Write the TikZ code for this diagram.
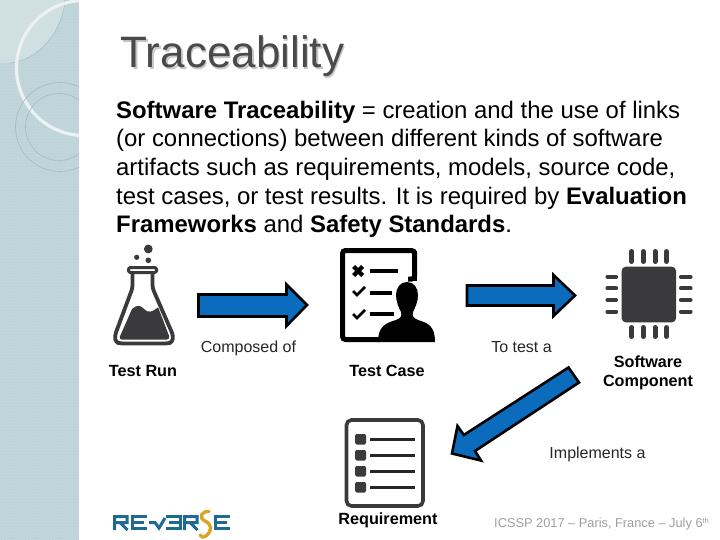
\documentclass[tikz,border=0pt]{standalone}
\usepackage{fontspec}
\setmainfont{Liberation Sans}
\usetikzlibrary{patterns}
\definecolor{side}{HTML}{BFD4D8}
\definecolor{sidelight}{HTML}{D4E2E5}
\definecolor{ring}{HTML}{A2BBC0}
\definecolor{blockblue}{HTML}{0B6BBD}
\definecolor{icon}{HTML}{3A3A3C}
\definecolor{titlegray}{HTML}{4A4A4A}
\definecolor{logoblue}{HTML}{1F6A90}
\definecolor{logogold}{HTML}{D8A526}
\tikzset{
  blockarrow/.style={draw=black,fill=blockblue,line width=2.6pt,line join=miter},
  lbl/.style={anchor=base,inner sep=0pt,font=\fontsize{16}{18}\selectfont,text=black!85},
  caption/.style={anchor=base,inner sep=0pt,align=center,font=\fontsize{16.2}{19}\selectfont,text=black},
  pin/.style={line width=4.2pt,draw=icon,line cap=round},
  logostroke/.style={draw=logoblue,line width=3pt,line cap=butt,line join=miter},
}
\begin{document}
\begin{tikzpicture}[x=1pt,y=-1pt]
\useasboundingbox (0,0) rectangle (720,540);
% sidebar
\fill[side] (0,0) rectangle (79,540);
\fill[pattern=dots,pattern color=white,opacity=0.35] (0,0) rectangle (79,540);
\begin{scope}
\clip (0,0) rectangle (79,540);
\fill[sidelight,opacity=0.8] (0,0) -- (65,0) .. controls (63,30) and (40,60) .. (10,63) -- (0,63) -- cycle;
\draw[ring,line width=0.5pt] (65,0) .. controls (63,30) and (40,60) .. (10,63);
\draw[white!55!sidelight,line width=3.2pt] (84,68) circle[radius=67.5];
\draw[ring,line width=0.6pt] (60,127) circle[radius=44.5];
\draw[ring,line width=0.6pt] (59,127) circle[radius=33.5];
\end{scope}
% title
\node (title) [anchor=base west,inner sep=0pt,text=titlegray,font=\fontsize{44}{48}\selectfont] at (120.5,68)
  {\rlap{\kern1.5pt\raisebox{-1.5pt}{\textcolor{black!22}{Traceability}}}Traceability};
% body
\node (body) [anchor=north west,inner sep=0pt,align=left,text=black,font=\fontsize{23.9}{28.7}\selectfont] at (116,100.5)
{\textbf{Software Traceability} = creation and the use of links\\
(or connections) between different kinds of software\\
artifacts such as requirements, models, source code,\\
test cases, or test results. It is required by \textbf{Evaluation}\\
\textbf{Frameworks} and \textbf{Safety Standards}.};
% flask
\fill[icon] (148.3,249) circle[radius=4.4] (136.7,257.3) circle[radius=2.6] (148.3,260.3) circle[radius=2.8];
\draw[icon,line width=3pt,line join=round,rounded corners=1.5pt]
  (128.5,267.5) -- (156.5,267.5) -- (156.5,272.5) -- (128.5,272.5) -- cycle;
\draw[icon,line width=3.8pt,line join=round,rounded corners=3pt]
  (132.5,272.5) -- (132.5,288) -- (115,335) -- (115.5,342) -- (120,343.5) -- (168,343.5) -- (172.5,342) -- (173,335) -- (152.5,288) -- (152.5,272.5);
\fill[icon,rounded corners=1pt] (120.5,339.5) -- (119.5,337.5) -- (132,309) .. controls (137,305) and (140,305) .. (144,309) .. controls (148,313) and (153,312) .. (158,307) -- (169.5,337) -- (168,339.5) -- cycle;
% test case icon
\draw[black,line width=5pt,rounded corners=3pt] (408,279) -- (414.5,279) -- (414.5,250.5) -- (342.5,250.5) -- (342.5,339.5) -- (380,339.5);
\draw[black,line width=5pt] (414.5,250.5) -- (414.5,281);
\fill[black] (352,268) -- (355,265) -- (358,268) -- (361,265) -- (364,268) -- (361,271) -- (364,274) -- (361,277) -- (358,274) -- (355,277) -- (352,274) -- (355,271) -- cycle;
\draw[black,line width=2.6pt,line join=miter] (353,291) -- (357,295) -- (365,287);
\draw[black,line width=2.6pt,line join=miter] (353,314) -- (357,318) -- (365,310);
\draw[black,line width=3.4pt] (370,271) -- (398,271) (370,293) -- (392,293) (370,314) -- (394,314);
\fill[black] (407,282) .. controls (414,282) and (418,288) .. (418,295) .. controls (418,302) and (415,308) .. (413,312) .. controls (412,316) and (413,318) .. (418,320) .. controls (428,323) and (435,326) .. (435,342) -- (378,342) .. controls (378,326) and (386,323) .. (396,320) .. controls (401,318) and (402,316) .. (401,312) .. controls (399,308) and (396,302) .. (396,295) .. controls (396,288) and (400,282) .. (407,282) -- cycle;
% chip
\fill[icon,rounded corners=4pt] (621.7,266.7) rectangle (676,322.3);
\foreach \x in {631.7,643.3,655,666.5}{
  \draw[pin,line width=5pt] (\x,251.5) -- (\x,261.5);
  \draw[pin,line width=5pt] (\x,327.5) -- (\x,336.5);
}
\foreach \y in {276.7,288.3,300,311.7}{
  \draw[pin] (607.5,\y) -- (616,\y);
  \draw[pin] (681,\y) -- (690.5,\y);
}
% requirement icon
\draw[icon,line width=3.6pt,rounded corners=5pt,fill=white] (346.5,420) rectangle (423,506);
\foreach \y in {434,450,466,482}{
  \fill[icon,rounded corners=1.5pt] (355,\y) rectangle +(11,10.5);
}
\draw[black!85,line width=2.5pt] (370,439.3) -- (415,439.3) (370,455.3) -- (415,455.3) (370,471.3) -- (415,471.3) (370,487.7) -- (415,487.7);
% block arrows
\draw[blockarrow] (198.5,294.5) -- (286.5,294.5) -- (286.5,284.5) -- (307,305) -- (286.5,326) -- (286.5,316.5) -- (198.5,316.5) -- cycle;
\draw[blockarrow] (467,285.5) -- (553.5,285.5) -- (553.5,275) -- (575,295.5) -- (553.5,316) -- (553.5,305.5) -- (467,305.5) -- cycle;
\draw[blockarrow] (568.5,367.5) -- (579,382.5) -- (475,451) -- (481,460.5) -- (452,453.5) -- (457.5,426) -- (463.8,435) -- cycle;
% labels
\node (l1) [lbl] at (248.5,352) {Composed of};
\node (l2) [lbl] at (521.5,352) {To test a};
\node (l3) [lbl] at (597.5,458) {Implements a};
\node (c1) [caption] at (143,376.5) {\textbf{Test Run}};
\node (c2) [caption] at (387,376.5) {\textbf{Test Case}};
\node (c3) [caption,anchor=north] at (648,355.5) {\textbf{Software}\\\textbf{Component}};
\node (c4) [caption] at (388,524.5) {\textbf{Requirement}};
\node (foot) [anchor=base west,inner sep=0pt,text=black!38,font=\fontsize{12.8}{14}\selectfont] at (494,527) {ICSSP 2017 -- Paris, France -- July 6\raisebox{0.5ex}{\fontsize{7.5}{8}\selectfont th}};
% logo
\begin{scope}
\draw[logostroke] (114.5,530) -- (114.5,516.5) -- (127,516.5) -- (127,522.5) -- (114.5,522.5) (120,522.5) -- (127.5,530);
\draw[logostroke] (147,516.5) -- (132,516.5) -- (132,528.5) -- (147,528.5) (132,522.5) -- (144,522.5);
\draw[logostroke] (149,522.5) -- (155,522.5) -- (159,528) -- (165,518);
\draw[logostroke] (166,516.5) -- (180,516.5) -- (180,528.5) -- (166,528.5) (180,522.5) -- (169,522.5);
\draw[logostroke] (184.5,530) -- (184.5,516.5) -- (197,516.5) -- (197,522.5) -- (184.5,522.5) (190,522.5) -- (197.5,530);
\draw[logogold,line width=3.4pt,line cap=round] (209,511.5) .. controls (201,511) and (199,518) .. (204,520.5) .. controls (212,524) and (213,530) .. (206,536) .. controls (204,538) and (201,537) .. (200,535);
\draw[logostroke] (229.5,516.5) -- (215,516.5) -- (215,528.5) -- (229.5,528.5) (215,522.5) -- (227,522.5);
\end{scope}
\end{tikzpicture}
\end{document}
